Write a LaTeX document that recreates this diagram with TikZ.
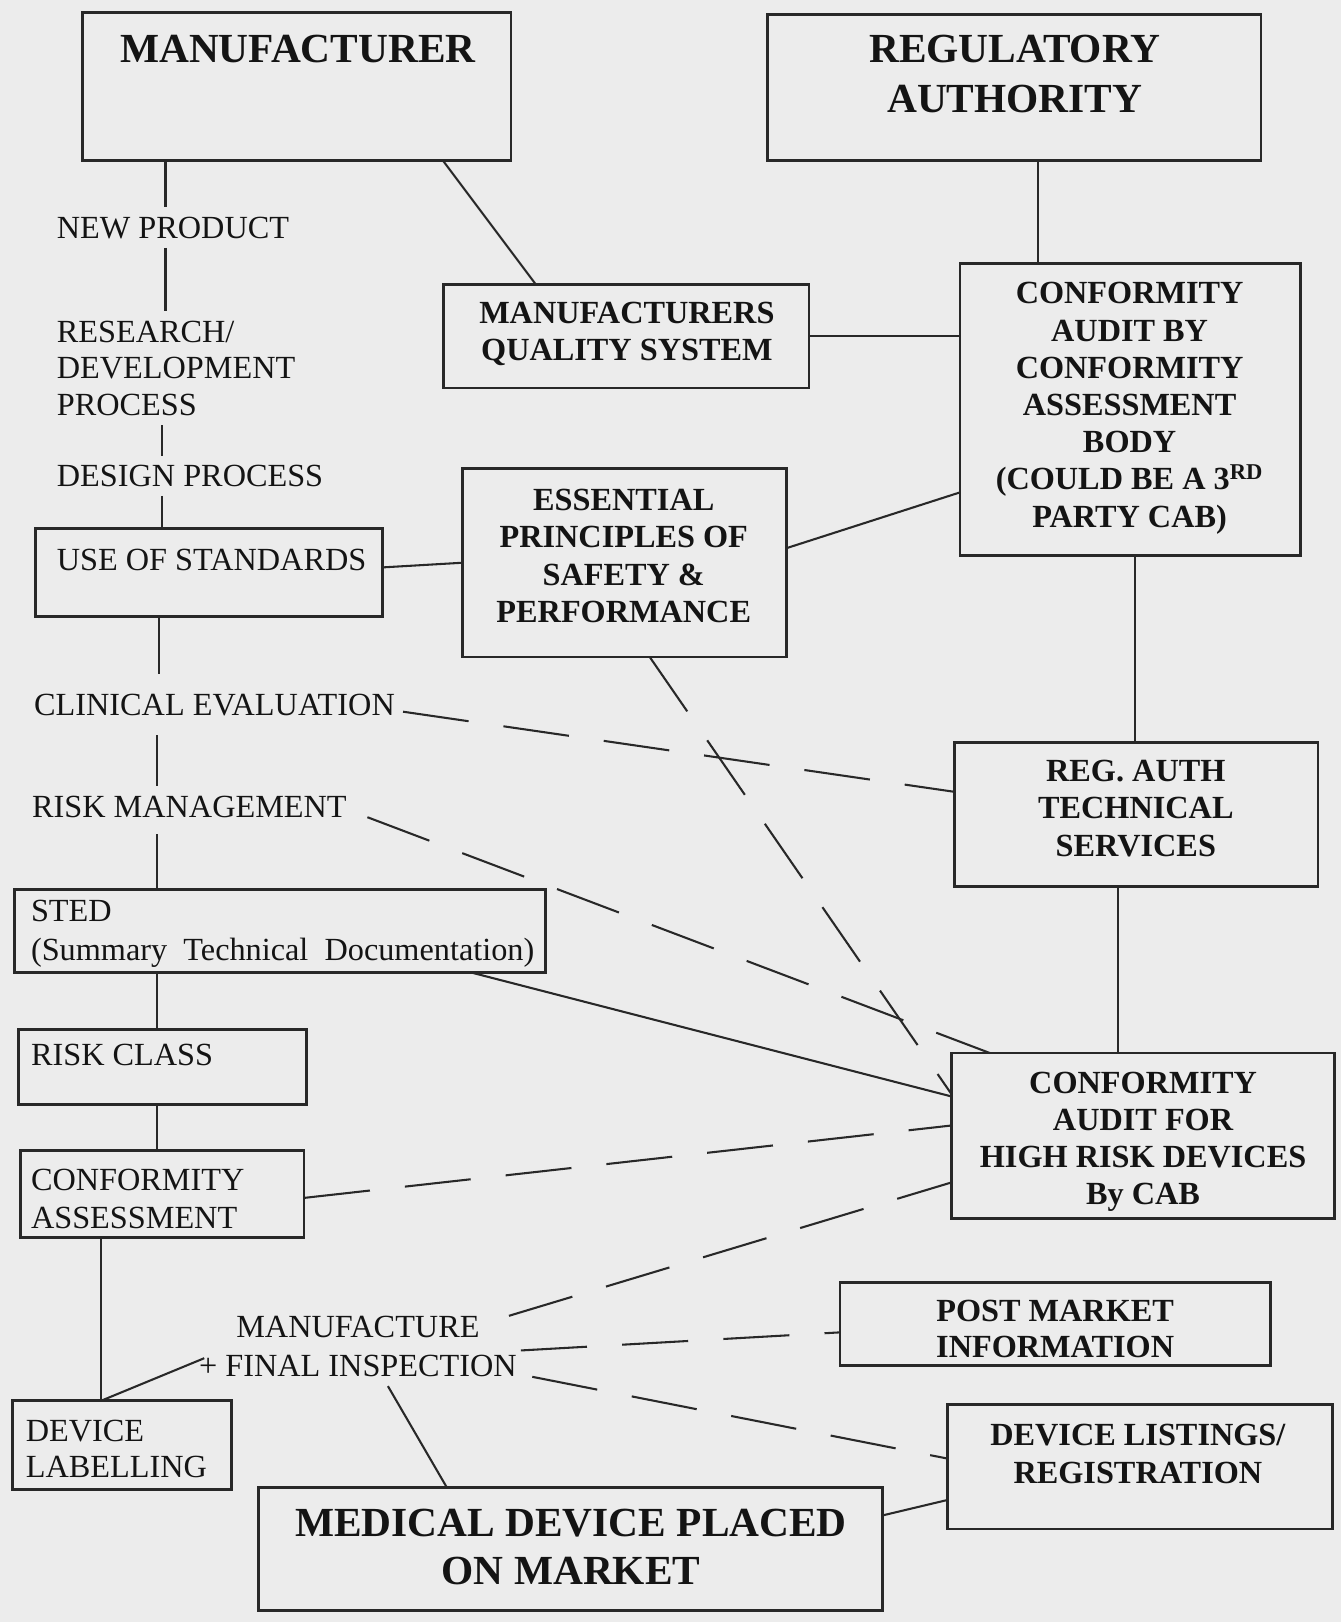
\documentclass[tikz,border=0pt]{standalone}
\usepackage{fontspec}
\setmainfont{Liberation Serif}
\usetikzlibrary{calc,fit}
\definecolor{paper}{RGB}{236,236,236}
\definecolor{ink}{RGB}{40,40,40}
\definecolor{txt}{RGB}{20,20,20}
\begin{document}
\begin{tikzpicture}[x=0.5pt,y=-0.5pt,
  box/.style={draw=ink, line width=1.3pt, rectangle, inner sep=0pt, outer sep=0pt},
  wire/.style={draw=ink, line width=1pt},
  dashwire/.style={wire, dash pattern=on 32pt off 17pt},
  plain/.style={inner sep=0pt, outer sep=0pt, text=txt, font=\fontsize{15.6}{17.8}\selectfont},
  heavy/.style={inner sep=0pt, outer sep=0pt, text=txt, align=center, anchor=north,
    font=\bfseries\fontsize{15.6}{18}\selectfont},
  title/.style={inner sep=0pt, outer sep=0pt, text=txt, align=center, anchor=north,
    font=\bfseries\fontsize{20}{24}\selectfont}]
\useasboundingbox (0,0) rectangle (1296,1568);
\fill[paper] (0,0) rectangle (1296,1568);

% ---- boxes ----
\node[box, fit={(80,12)(494,155)}] (mfr) {};
\node[box, fit={(742,14)(1219,155)}] (reg) {};
\node[box, fit={(429,275)(782,375)}] (mqs) {};
\node[box, fit={(928,255)(1257,537)}] (cab) {};
\node[box, fit={(447,453)(760,635)}] (eps) {};
\node[box, fit={(34,511)(370,596)}] (std) {};
\node[box, fit={(923,718)(1274,857)}] (rats) {};
\node[box, fit={(14,860)(527,940)}] (sted) {};
\node[box, fit={(18,995)(296,1068)}] (rclass) {};
\node[box, fit={(20,1112)(294,1196)}] (cass) {};
\node[box, fit={(920,1018)(1290,1178)}] (hr) {};
\node[box, fit={(812,1240)(1228,1320)}] (pmi) {};
\node[box, fit={(12,1354)(224,1440)}] (dlab) {};
\node[box, fit={(916,1358)(1288,1478)}] (dlist) {};
\node[box, fit={(250,1438)(853,1557)}] (mkt) {};

% ---- box texts ----
\node[title] (mfrT) at (288,34) {MANUFACTURER};
\node[title] (regT) at (981,34) {REGULATORY\\AUTHORITY};
\node[heavy] (mqsT) at (606,292) {MANUFACTURERS\\QUALITY SYSTEM};
\node[heavy] (cabT) at (1092,273) {CONFORMITY\\AUDIT BY\\CONFORMITY\\ASSESSMENT\\BODY\\(COULD BE A 3\textsuperscript{RD}\\PARTY CAB)};
\node[heavy] (epsT) at (603,473) {ESSENTIAL\\PRINCIPLES OF\\SAFETY \&\\PERFORMANCE};
\node[heavy] (ratsT) at (1098,735) {REG. AUTH\\TECHNICAL\\SERVICES};
\node[heavy] (hrT) at (1105,1036) {CONFORMITY\\AUDIT FOR\\HIGH RISK DEVICES\\By CAB};
\node[heavy, font=\bfseries\fontsize{15.6}{17.5}\selectfont] (pmiT) at (1020,1257) {POST MARKET\\INFORMATION};
\node[heavy] (dlistT) at (1100,1377) {DEVICE LISTINGS/\\REGISTRATION};
\node[title, font=\bfseries\fontsize{20}{23}\selectfont] (mktT) at (552,1459) {MEDICAL DEVICE PLACED\\ON MARKET};

\node[plain, anchor=west] (stdT) at (55,541) {USE OF STANDARDS};
\node[plain, anchor=north west, align=left, font=\fontsize{15.6}{19}\selectfont] (stedT) at (30,870)
  {STED\\(Summary\ \ Technical\ \ Documentation)};
\node[plain, anchor=west] (rclassT) at (30,1020) {RISK CLASS};
\node[plain, anchor=north west, align=left, font=\fontsize{15.6}{18.5}\selectfont] (cassT) at (30,1130) {CONFORMITY\\ASSESSMENT};
\node[plain, anchor=north west, align=left, font=\fontsize{15.6}{17.5}\selectfont] (dlabT) at (25,1373) {DEVICE\\LABELLING};

% ---- free labels on the development path ----
\node[plain, anchor=west] (newprod) at (55,220) {NEW PRODUCT};
\node[plain, anchor=north west, align=left] (research) at (55,310) {RESEARCH/\\DEVELOPMENT\\PROCESS};
\node[plain, anchor=west] (design) at (55,460) {DESIGN PROCESS};
\node[plain, anchor=west] (clinical) at (33,682) {CLINICAL EVALUATION};
\node[plain, anchor=west] (riskm) at (31,780) {RISK MANAGEMENT};
\node[plain, anchor=north, align=center, font=\fontsize{15.6}{19}\selectfont] (mfgT) at (346,1272) {MANUFACTURE\\+ FINAL INSPECTION};

% ---- spine x positions ----
\coordinate (spA) at (160,0);
\coordinate (spB) at (157,0);
\coordinate (spC) at (154,0);
\coordinate (spD) at (152,0);
\coordinate (spE) at (98,0);

% ---- development path ----
\draw[wire, shorten >=4.5pt] (mfr.south -| spA) -- (newprod.north -| spA);
\draw[wire, shorten <=4.5pt, shorten >=4.5pt] (newprod.south -| spA) -- (research.north -| spA);
\draw[wire, shorten <=4.5pt, shorten >=4.5pt] (research.south -| spB) -- (design.north -| spB);
\draw[wire, shorten <=4.5pt] (design.south -| spB) -- (std.north -| spB);
\draw[wire, shorten >=10pt] (std.south -| spC) -- (clinical.north -| spC);
\draw[wire, shorten <=9pt, shorten >=5pt] (clinical.south -| spD) -- (riskm.north -| spD);
\draw[wire, shorten <=8pt] (riskm.south -| spD) -- (sted.north -| spD);
\draw[wire] (sted.south -| spD) -- (rclass.north -| spD);
\draw[wire] (rclass.south -| spD) -- (cass.north -| spD);
\draw[wire] (cass.south -| spE) -- (dlab.north -| spE);
\draw[wire] (dlab.north -| spE) -- ($(mfgT.south west)+(5,-18)$);
\draw[wire] ($(mfgT.south)+(29,9)$) -- ($(mkt.north west)+(182,0)$);
\draw[wire] ($(mkt.north east)+(0,27)$) -- ($(dlist.north west)+(0,92)$);

% ---- solid links ----
\draw[wire] ($(mfr.south west)+(348,0)$) -- ($(mqs.north west)+(89,0)$);
\draw[wire] (mqs.east) -- (mqs.east -| cab.west);
\draw[wire] ($(reg.south west)+(261,0)$) coordinate (rg) -- (rg |- cab.north);
\draw[wire] ($(std.east)+(0,-5)$) -- (eps.west);
\draw[wire] ($(eps.east)+(0,-14)$) -- ($(cab.west)+(0,80)$);
\draw[wire] ($(cab.south)+(5,0)$) coordinate (cb) -- (cb |- rats.north);
\draw[wire] ($(rats.south)+(-18,0)$) coordinate (rt) -- (rt |- hr.north);
\draw[wire] ($(sted.south east)+(-72,0)$) -- ($(hr.west)+(0,-38)$);

% ---- dashed links ----
\draw[dashwire] ($(clinical.east)+(8,6)$) -- ($(rats.west)+(0,-22)$);
\draw[dashwire] ($(riskm.east)+(20,10)$) -- ($(hr.north west)+(37,0)$);
\draw[dashwire] ($(eps.south west)+(181,0)$) -- ($(hr.west)+(0,-40)$);
\draw[dashwire] ($(cass.east)+(0,4)$) -- ($(hr.west)+(0,-10)$);
\draw[dashwire] ($(mfgT.north)+(146,0)$) -- ($(hr.west)+(0,45)$);
\draw[dashwire] ($(mfgT.east)+(4,4)$) -- ($(pmi.west)+(0,8)$);
\draw[dashwire] ($(mfgT.south east)+(15,0)$) -- ($(dlist.west)+(0,-8)$);
\end{tikzpicture}
\end{document}
